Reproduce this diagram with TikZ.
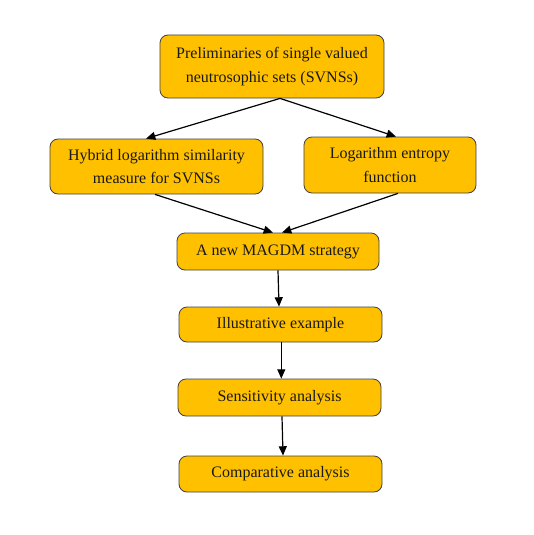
\documentclass[tikz,border=0pt]{standalone}
\usepackage{fontspec}
\setmainfont{Liberation Serif}
\usetikzlibrary{arrows.meta,calc}
\definecolor{boxfill}{HTML}{FFC000}
\definecolor{boxline}{HTML}{404040}
\tikzset{
  flowbox/.style={draw=boxline, line width=0.6pt, fill=boxfill, rounded corners=6pt,
    align=center, inner sep=0pt, font=\fontsize{12}{17.5}\selectfont, text=black!90},
  arr/.style={line width=0.9pt, -{Triangle[length=7pt,width=6pt]}}
}
\begin{document}
\begin{tikzpicture}[x=0.75pt,y=-0.75pt]
\useasboundingbox (0,0) rectangle (534,535);
\node[flowbox, minimum width=168pt, minimum height=47.25pt] (b1) at (272,66.5)
  {Preliminaries of single valued\\neutrosophic sets (SVNSs)};
\node[flowbox, minimum width=159.75pt, minimum height=41.25pt] (b2) at (156.5,166.5)
  {Hybrid logarithm similarity\\measure for SVNSs};
\node[flowbox, minimum width=129pt, minimum height=42pt] (b3) at (390,165)
  {Logarithm entropy\\function};
\node[flowbox, minimum width=151.5pt, minimum height=27.75pt] (b4) at (278,251.5)
  {A new MAGDM strategy};
\node[flowbox, minimum width=152.25pt, minimum height=26.25pt] (b5) at (280.5,324.5)
  {Illustrative example};
\node[flowbox, minimum width=152.25pt, minimum height=27.75pt] (b6) at (279.5,397.5)
  {Sensitivity analysis};
\node[flowbox, minimum width=152.25pt, minimum height=27pt] (b7) at (280.5,474)
  {Comparative analysis};
\draw[arr] ($(b1.south)+(8,0)$) -- ($(b2.north)+(-10.5,0)$);
\draw[arr] ($(b1.south)+(8,0)$) -- ($(b3.north)+(6,0)$);
\draw[arr] ($(b2.south)+(-1.5,0)$) -- ($(b4.north)+(-5,0)$);
\draw[arr] ($(b3.south)+(8,0)$) -- ($(b4.north)+(4,0)$);
\draw[arr] (b4.south) -- ($(b5.north)+(-1.5,0)$);
\draw[arr] ($(b5.south)+(0.8,0)$) -- ($(b6.north)+(1.8,0)$);
\draw[arr] ($(b6.south)+(2.5,0)$) -- ($(b7.north)+(2.5,0)$);
\end{tikzpicture}
\end{document}
